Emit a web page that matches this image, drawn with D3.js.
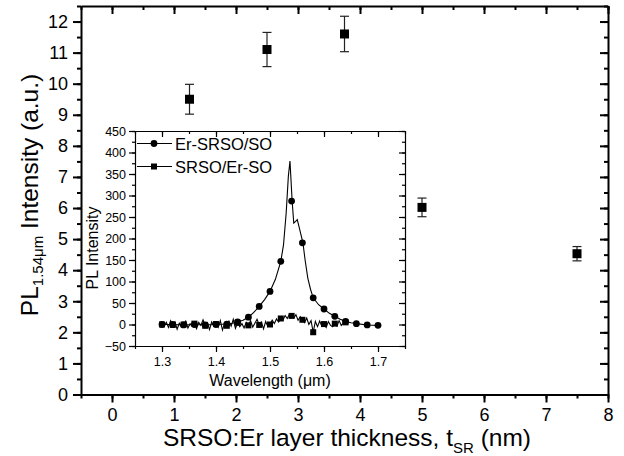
<!DOCTYPE html>
<html>
<head>
<meta charset="utf-8">
<script src="https://cdn.jsdelivr.net/npm/d3@7"></script>
<style>
body { margin: 0; background: #fff; }
svg text { font-family: "Liberation Sans", Arial, sans-serif; fill: #000; }
</style>
</head>
<body>
<div class="chart"></div>
<script>
// main plot: PL at 1.54 um vs SRSO:Er layer thickness
var thickness = [1.25, 2.5, 3.75, 5, 7.5];
var plIntensity = [9.5, 11.1, 11.6, 6.02, 4.53];
var plError = [0.48, 0.55, 0.57, 0.3, 0.23];
var mainXTicks = [0, 1, 2, 3, 4, 5, 6, 7, 8];
var mainYTicks = [0, 1, 2, 3, 4, 5, 6, 7, 8, 9, 10, 11, 12];

// inset: Er-SRSO/SO spectrum (line) and its markers
var erLineWl = [1.30, 1.32, 1.34, 1.36, 1.38, 1.40, 1.42, 1.43, 1.44, 1.45, 1.46, 1.47, 1.48, 1.49, 1.50,
  1.51, 1.52, 1.525, 1.53, 1.534, 1.537, 1.541, 1.544, 1.5475, 1.5505, 1.5535, 1.561, 1.565, 1.57, 1.575,
  1.58, 1.59, 1.60, 1.61, 1.62, 1.63, 1.64, 1.65, 1.66, 1.68, 1.70];
var erLineVal = [0, 0, -1, 0, -1, 0, 1, 3, 6, 10, 17, 28, 42, 58, 77,
  105, 147, 185, 260, 345, 380, 287, 236, 240, 244, 229, 190, 150, 108, 82,
  62, 46, 36, 26, 19, 12, 7, 4, 2, -1, -2];
var erMarkWl = [1.30, 1.32, 1.34, 1.36, 1.38, 1.40, 1.42, 1.44, 1.46, 1.48, 1.50,
  1.52, 1.54, 1.56, 1.58, 1.60, 1.62, 1.64, 1.66, 1.68, 1.70];
var erMarkVal = [0, 0, -1, 0, -1, 0, 1, 6, 17, 42, 77,
  147, 287, 190, 62, 36, 19, 7, 2, -1, -2];

// inset: SRSO/Er-SO spectrum, step 0.004 um from 1.300, marker every 5th point
var srStart = 1.30;
var srStep = 0.004;
var srVal = [0, -4, 5, -7, 9, -1, 6, -11, 3, -5,
  0, 8, -8, 2, -4, 2, -10, 5, -2, 11,
  -3, 4, -12, 6, -3, 1, -7, 9, -13, 3,
  -3, 8, -4, 12, -9, 4, -5, 2, -8, 5,
  -2, 9, -6, 3, 12, -1, 6, -10, 7, -5,
  0, 10, 2, 13, 6, 14, 10, 21, 14, 24,
  20, 15, 23, 10, 18, 11, 4, 15, 0, 9,
  -18, 7, -5, 8, -4, 1, -7, 7, -2, -5,
  2, -4, 9, -2, 4, 5, 1];
var insetXTicks = [1.3, 1.4, 1.5, 1.6, 1.7];
var insetYTicks = [-50, 0, 50, 100, 150, 200, 250, 300, 350, 400, 450];
var legendNames = ["Er-SRSO/SO", "SRSO/Er-SO"];

var svgWidth = 624;
var svgHeight = 456;

var svg = d3.select(".chart").append("svg")
  .attr("width", svgWidth)
  .attr("height", svgHeight);

// main plot area
var plot = { left: 81, right: 608, top: 6, bottom: 394.5 };

var xScale = d3.scaleLinear().domain([-0.5, 8]).range([plot.left, plot.right]);
var yScale = d3.scaleLinear().domain([0, 12.5]).range([plot.bottom, plot.top]);

function halfSteps(lo, hi, step) {
  var out = [];
  for (var v = lo; v <= hi + 1e-9; v += step) out.push(+v.toFixed(4));
  return out;
}

// draws minor + major ticks of one side; len < 0 means inward
function addAxis(makeAxis, scale, transform, major, minor, len, fmt, fontSize, pad, lw) {
  var gMinor = svg.append("g").attr("transform", transform)
    .call(makeAxis(scale).tickValues(minor).tickSize(len / 2).tickSizeOuter(0).tickFormat(""));
  gMinor.select(".domain").remove();
  gMinor.selectAll("line").attr("stroke-width", lw);

  var gMajor = svg.append("g").attr("transform", transform)
    .call(makeAxis(scale).tickValues(major).tickSize(len).tickSizeOuter(0)
      .tickPadding(pad).tickFormat(fmt || ""));
  gMajor.select(".domain").attr("stroke-width", lw);
  gMajor.selectAll("line").attr("stroke-width", lw);
  gMajor.selectAll("text").attr("font-size", fontSize + "px")
    .attr("font-family", "'Liberation Sans', Arial, sans-serif");
  return gMajor;
}

var intFmt = d3.format("d");

addAxis(d3.axisBottom, xScale, "translate(0," + plot.bottom + ")",
  mainXTicks, halfSteps(-0.5, 8, 0.5), 8, intFmt, 18, 6, 2);
addAxis(d3.axisTop, xScale, "translate(0," + plot.top + ")",
  mainXTicks, halfSteps(-0.5, 8, 0.5), -8, null, 18, 6, 2);
addAxis(d3.axisLeft, yScale, "translate(" + plot.left + ",0)",
  mainYTicks, halfSteps(0, 12.5, 0.5), 8, intFmt, 18, 5, 2);
addAxis(d3.axisRight, yScale, "translate(" + plot.right + ",0)",
  mainYTicks, halfSteps(0, 12.5, 0.5), -8, null, 18, 5, 2);

// error bars + squares
var pts = svg.append("g");
thickness.forEach(function(t, i) {
  var cx = xScale(t);
  var lo = yScale(plIntensity[i] - plError[i]);
  var hi = yScale(plIntensity[i] + plError[i]);
  pts.append("line").attr("x1", cx).attr("x2", cx).attr("y1", lo).attr("y2", hi)
    .attr("stroke", "#222").attr("stroke-width", 1.2);
  [lo, hi].forEach(function(yy) {
    pts.append("line").attr("x1", cx - 4.5).attr("x2", cx + 4.5).attr("y1", yy).attr("y2", yy)
      .attr("stroke", "#222").attr("stroke-width", 1.2);
  });
  pts.append("rect").attr("x", cx - 4.5).attr("y", yScale(plIntensity[i]) - 4.5)
    .attr("width", 9).attr("height", 9).attr("fill", "#000");
});

// main axis titles
var yTitle = svg.append("text")
  .attr("transform", "translate(38,195) rotate(-90)")
  .attr("text-anchor", "middle")
  .attr("font-size", "24.5px");
yTitle.append("tspan").text("PL");
yTitle.append("tspan").attr("font-size", "15px").attr("dy", 5).text("1.54\u03bcm");
yTitle.append("tspan").attr("dy", -5).text(" Intensity (a.u.)");

var xTitle = svg.append("text")
  .attr("x", 347).attr("y", 446)
  .attr("text-anchor", "middle")
  .attr("font-size", "24.5px");
xTitle.append("tspan").text("SRSO:Er layer thickness, t");
xTitle.append("tspan").attr("font-size", "15px").attr("dy", 7).text("SR");
xTitle.append("tspan").attr("dy", -7).text(" (nm)");

// ---- inset ----
var inset = { left: 135, right: 405, top: 131, bottom: 346 };
svg.append("rect")
  .attr("x", inset.left).attr("y", inset.top)
  .attr("width", inset.right - inset.left).attr("height", inset.bottom - inset.top)
  .attr("fill", "#fff");

var ixScale = d3.scaleLinear().domain([1.25, 1.75]).range([inset.left, inset.right]);
var iyScale = d3.scaleLinear().domain([-50, 450]).range([inset.bottom, inset.top]);

var oneDec = d3.format(".1f");
addAxis(d3.axisBottom, ixScale, "translate(0," + inset.bottom + ")",
  insetXTicks, halfSteps(1.25, 1.75, 0.05), 6, oneDec, 12.5, 5, 1.2);
addAxis(d3.axisTop, ixScale, "translate(0," + inset.top + ")",
  insetXTicks, halfSteps(1.25, 1.75, 0.05), -6, null, 12.5, 5, 1.2);
addAxis(d3.axisLeft, iyScale, "translate(" + inset.left + ",0)",
  insetYTicks, halfSteps(-50, 450, 25), 6, intFmt, 12.5, 3, 1.2);
addAxis(d3.axisRight, iyScale, "translate(" + inset.right + ",0)",
  insetYTicks, halfSteps(-50, 450, 25), -6, null, 12.5, 3, 1.2);

var line = d3.line().x(function(d) { return ixScale(d[0]); }).y(function(d) { return iyScale(d[1]); });

var srData = srVal.map(function(v, i) { return [srStart + i * srStep, v]; });
var erData = erLineWl.map(function(w, i) { return [w, erLineVal[i]]; });

svg.append("path").datum(srData).attr("d", line)
  .attr("fill", "none").attr("stroke", "#000").attr("stroke-width", 1.1);
svg.append("path").datum(erData).attr("d", line)
  .attr("fill", "none").attr("stroke", "#000").attr("stroke-width", 1.1);

svg.append("g").selectAll("rect")
  .data(srData.filter(function(d, i) { return i % 5 === 0; }))
  .enter().append("rect")
  .attr("x", function(d) { return ixScale(d[0]) - 3; })
  .attr("y", function(d) { return iyScale(d[1]) - 3; })
  .attr("width", 6).attr("height", 6).attr("fill", "#000");

svg.append("g").selectAll("circle")
  .data(erMarkWl.map(function(w, i) { return [w, erMarkVal[i]]; }))
  .enter().append("circle")
  .attr("cx", function(d) { return ixScale(d[0]); })
  .attr("cy", function(d) { return iyScale(d[1]); })
  .attr("r", 3.4).attr("fill", "#000");

// legend
var legend = svg.append("g");
legendNames.forEach(function(name, i) {
  var ly = 143.5 + i * 23;
  legend.append("line").attr("x1", 137).attr("x2", 172).attr("y1", ly).attr("y2", ly)
    .attr("stroke", "#000").attr("stroke-width", 1.1);
  if (i === 0) {
    legend.append("circle").attr("cx", 154).attr("cy", ly).attr("r", 3.4).attr("fill", "#000");
  } else {
    legend.append("rect").attr("x", 151).attr("y", ly - 3).attr("width", 6).attr("height", 6).attr("fill", "#000");
  }
  legend.append("text").attr("x", 175).attr("y", ly + 6).attr("font-size", "16.5px").text(name);
});

// inset titles
svg.append("text")
  .attr("transform", "translate(98,248) rotate(-90)")
  .attr("text-anchor", "middle")
  .attr("font-size", "16px")
  .text("PL Intensity");

svg.append("text")
  .attr("x", 270).attr("y", 385.5)
  .attr("text-anchor", "middle")
  .attr("font-size", "16px")
  .text("Wavelength (\u03bcm)");
</script>
</body>
</html>
